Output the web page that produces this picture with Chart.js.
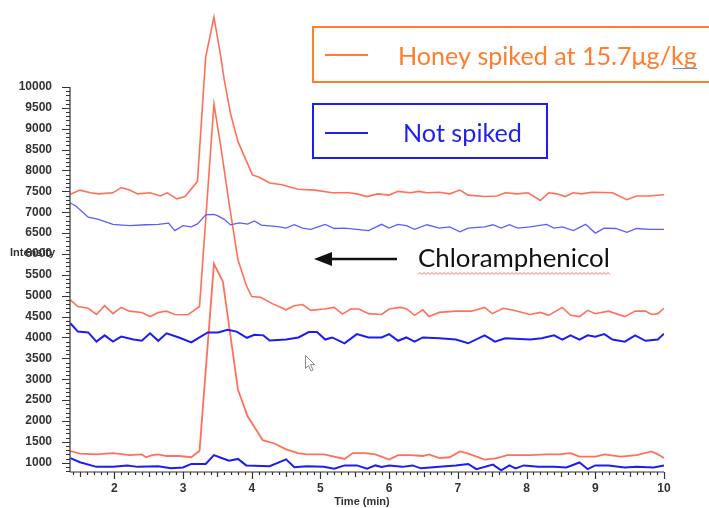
<!DOCTYPE html>
<html>
<head>
<meta charset="utf-8">
<title>Chloramphenicol chromatogram</title>
<script src="https://cdn.jsdelivr.net/npm/chart.js@4.4.1/dist/chart.umd.min.js"></script>
<style>
    html, body { margin: 0; padding: 0; background: #fff; }
    #chrom { display: block; }
</style>
</head>
<body>
<canvas id="chrom" width="709" height="508"></canvas>
<script>
"use strict";

// axis ticks
var xTickLabels = [2, 3, 4, 5, 6, 7, 8, 9, 10];
var yTickLabels = [1000, 1500, 2000, 2500, 3000, 3500, 4000, 4500, 5000, 5500,
    6000, 6500, 7000, 7500, 8000, 8500, 9000, 9500, 10000];

// Honey spiked at 15.7 ug/kg - upper trace
var redTopT = [1.36, 1.5, 1.65, 1.77, 1.98, 2.1, 2.22, 2.34, 2.52, 2.67, 2.77, 2.91, 3.03, 3.21, 3.33, 3.45,
    3.55, 3.6, 3.69, 3.8, 4.01, 4.11, 4.26, 4.44, 4.67, 4.92, 5.17, 5.41, 5.53, 5.68, 5.83, 6.0, 6.13,
    6.31, 6.43, 6.55, 6.73, 6.88, 7.03, 7.15, 7.39, 7.57, 7.69, 7.87, 8.02, 8.2, 8.32, 8.44, 8.56, 8.68,
    8.8, 8.95, 9.25, 9.46, 9.6, 9.78, 10.0];
var redTopV = [7430, 7530, 7465, 7440, 7465, 7590, 7530, 7440, 7465, 7390, 7465, 7320, 7375, 7740, 10720, 11675,
    10720, 10170, 9370, 8690, 7894, 7838, 7700, 7660, 7551, 7530, 7465, 7465, 7440, 7375, 7440, 7410, 7500,
    7465, 7500, 7465, 7480, 7440, 7530, 7410, 7375, 7390, 7465, 7440, 7465, 7280, 7465, 7440, 7375, 7465,
    7440, 7480, 7465, 7300, 7390, 7390, 7420];

// Honey spiked - middle trace
var redMidT = [1.36, 1.47, 1.62, 1.74, 1.86, 1.98, 2.1, 2.22, 2.4, 2.52, 2.64, 2.76, 2.88, 3.07, 3.24, 3.45,
    3.55, 3.67, 3.8, 3.92, 4.0, 4.13, 4.3, 4.5, 4.62, 4.74, 4.86, 5.05, 5.2, 5.32, 5.44, 5.56, 5.7, 5.89,
    6.0, 6.16, 6.25, 6.37, 6.49, 6.58, 6.73, 6.97, 7.2, 7.39, 7.5, 7.66, 7.81, 8.05, 8.2, 8.32, 8.52, 8.64,
    8.77, 8.89, 9.0, 9.19, 9.43, 9.58, 9.73, 9.82, 9.91, 10.0];
var redMidV = [4900, 4740, 4700, 4550, 4760, 4570, 4720, 4630, 4600, 4500, 4600, 4630, 4550, 4543, 4743, 9593,
    8572, 7217, 5859, 5250, 4981, 4960, 4810, 4663, 4760, 4790, 4650, 4680, 4720, 4560, 4680, 4680, 4570, 4550,
    4680, 4720, 4690, 4530, 4660, 4500, 4600, 4630, 4630, 4720, 4570, 4700, 4650, 4550, 4600, 4530, 4720, 4530,
    4500, 4650, 4570, 4630, 4500, 4630, 4630, 4550, 4570, 4700];

// Honey spiked - lower trace
var redBotT = [1.36, 1.5, 1.74, 1.98, 2.22, 2.4, 2.46, 2.55, 2.64, 2.76, 2.94, 3.12, 3.24, 3.45, 3.58, 3.8,
    3.94, 4.16, 4.33, 4.5, 4.67, 4.8, 5.05, 5.35, 5.47, 5.65, 5.8, 6.0, 6.13, 6.31, 6.49, 6.58, 6.73, 6.88,
    7.03, 7.15, 7.39, 7.57, 7.72, 8.05, 8.29, 8.47, 8.64, 8.77, 9.0, 9.13, 9.37, 9.6, 9.82, 9.91, 10.0];
var redBotV = [1280, 1215, 1200, 1230, 1180, 1200, 1130, 1180, 1200, 1160, 1160, 1130, 1280, 5764, 5340, 2748,
    2110, 1540, 1460, 1320, 1230, 1200, 1200, 1090, 1230, 1230, 1200, 1075, 1180, 1180, 1160, 1200, 1110, 1130,
    1270, 1215, 1075, 1110, 1180, 1180, 1200, 1200, 1230, 1145, 1145, 1200, 1145, 1180, 1270, 1200, 1110];

// Not spiked - upper trace
var blueTopT = [1.36, 1.44, 1.62, 1.77, 1.98, 2.22, 2.46, 2.64, 2.79, 2.88, 3.0, 3.12, 3.21, 3.33, 3.45, 3.5,
    3.6, 3.69, 3.82, 3.94, 4.04, 4.14, 4.38, 4.5, 4.62, 4.74, 4.86, 5.07, 5.2, 5.35, 5.53, 5.7, 5.89, 6.0,
    6.13, 6.25, 6.37, 6.55, 6.73, 6.88, 7.03, 7.15, 7.39, 7.51, 7.63, 7.75, 7.87, 8.05, 8.29, 8.4, 8.52,
    8.68, 8.86, 9.0, 9.13, 9.3, 9.46, 9.6, 9.78, 10.0];
var blueTopV = [7220, 7150, 6880, 6830, 6710, 6680, 6700, 6710, 6740, 6560, 6680, 6650, 6720, 6936, 6950, 6920,
    6830, 6697, 6745, 6715, 6790, 6690, 6657, 6620, 6700, 6620, 6590, 6710, 6610, 6620, 6590, 6560, 6710, 6620,
    6710, 6680, 6590, 6700, 6620, 6650, 6530, 6620, 6650, 6700, 6620, 6700, 6620, 6650, 6710, 6620, 6650,
    6560, 6710, 6500, 6620, 6610, 6520, 6610, 6590, 6590];

// Not spiked - middle trace
var blueMidT = [1.36, 1.47, 1.62, 1.74, 1.86, 1.98, 2.1, 2.28, 2.4, 2.52, 2.64, 2.76, 2.94, 3.12, 3.24, 3.36,
    3.51, 3.65, 3.78, 3.93, 4.04, 4.17, 4.26, 4.5, 4.68, 4.83, 4.95, 5.07, 5.17, 5.35, 5.53, 5.7, 5.89, 6.0,
    6.13, 6.25, 6.37, 6.49, 6.73, 6.97, 7.15, 7.39, 7.54, 7.69, 8.05, 8.22, 8.4, 8.52, 8.64, 8.77, 8.89, 9.0,
    9.13, 9.25, 9.43, 9.58, 9.73, 9.91, 10.0];
var blueMidV = [4340, 4140, 4120, 3900, 4050, 3900, 4020, 3950, 3920, 4100, 3920, 4100, 4000, 3880, 4000, 4120,
    4120, 4184, 4140, 3992, 4064, 4050, 3928, 3950, 4000, 4130, 4130, 3950, 4000, 3860, 4080, 4000, 4000, 4080,
    3920, 4000, 3900, 4000, 3980, 3950, 3860, 4050, 3900, 3980, 3950, 3980, 4050, 3950, 4050, 3950, 4050, 4020,
    4080, 3950, 3900, 4050, 3920, 3950, 4090];

// Not spiked - lower trace
var blueBotT = [1.36, 1.5, 1.74, 1.98, 2.19, 2.34, 2.64, 2.82, 3.0, 3.12, 3.33, 3.45, 3.57, 3.67, 3.8, 3.92,
    4.26, 4.5, 4.62, 4.8, 5.05, 5.2, 5.35, 5.53, 5.68, 5.8, 5.89, 6.0, 6.19, 6.34, 6.46, 6.73, 6.97, 7.15,
    7.27, 7.51, 7.63, 7.75, 7.84, 7.96, 8.17, 8.4, 8.58, 8.77, 8.89, 9.0, 9.19, 9.43, 9.6, 9.85, 10.0];
var blueBotV = [1110, 1010, 900, 900, 935, 900, 915, 865, 885, 970, 970, 1180, 1105, 1045, 1090, 935,
    915, 1080, 889, 915, 900, 855, 935, 935, 855, 935, 900, 935, 900, 935, 865, 900, 935, 970,
    845, 955, 815, 935, 865, 935, 900, 900, 885, 1005, 845, 935, 935, 885, 900, 885, 935];

var RED = "rgba(255, 96, 72, 0.9)";
var BLUE = "rgb(28, 28, 245)";
var BLUE_LIGHT = "rgb(92, 92, 255)";
var ORANGE = "rgb(255, 125, 45)";
var LABEL_FONT = "bold 11px 'Liberation Sans'";

function pts(ts, vs) {
    return ts.map(function (t, i) { return { x: t, y: vs[i] }; });
}

function trace(ts, vs, color, width) {
    return {
        data: pts(ts, vs),
        borderColor: color,
        borderWidth: width,
        pointRadius: 0,
        tension: 0,
        fill: false
    };
}

// text fitted to a target width
function fitText(ctx, text, family, width, x, y, color) {
    ctx.font = "40px " + family;
    var size = 40 * width / ctx.measureText(text).width;
    ctx.font = size.toFixed(2) + "px " + family;
    ctx.fillStyle = color;
    ctx.textAlign = "left";
    ctx.textBaseline = "alphabetic";
    ctx.fillText(text, x, y);
}

// axes with minor ticks, labels and the slide annotations
var decor = {
    id: "decor",
    afterDraw: function (chart) {
        var ctx = chart.ctx;
        var xs = chart.scales.x;
        var ys = chart.scales.y;
        var area = chart.chartArea;
        var v, p, len;

        ctx.save();
        ctx.strokeStyle = "#333";
        ctx.lineWidth = 1.2;

        // y axis line and ticks
        ctx.beginPath();
        ctx.moveTo(area.left, ys.getPixelForValue(10000));
        ctx.lineTo(area.left, area.bottom);
        for (v = 800; v <= 10000; v += 100) {
            p = Math.round(ys.getPixelForValue(v)) + 0.5;
            len = v % 500 === 0 ? 8 : 4;
            ctx.moveTo(area.left - len, p);
            ctx.lineTo(area.left, p);
        }
        ctx.stroke();

        // x axis line and ticks
        ctx.beginPath();
        ctx.moveTo(area.left, area.bottom);
        ctx.lineTo(area.right, area.bottom);
        for (v = 14; v <= 100; v += 1) {
            p = Math.round(xs.getPixelForValue(v / 10)) + 0.5;
            len = v % 10 === 0 ? 7 : (v % 5 === 0 ? 5 : 3);
            ctx.moveTo(p, area.bottom);
            ctx.lineTo(p, area.bottom + len);
        }
        ctx.stroke();

        ctx.fillStyle = "#333";
        ctx.font = LABEL_FONT;
        ctx.textBaseline = "middle";
        ctx.textAlign = "left";
        ctx.fillText("Intensity", 10, 253);
        ctx.textAlign = "center";
        ctx.fillText("Time (min)", 362, 502);

        // legend boxes
        ctx.lineWidth = 2;
        ctx.strokeStyle = ORANGE;
        ctx.strokeRect(313, 27, 400, 55);
        ctx.beginPath();
        ctx.moveTo(325, 55);
        ctx.lineTo(368, 55);
        ctx.stroke();
        fitText(ctx, "Honey spiked at 15.7\u03bcg/kg", "Lato", 299, 398, 65, ORANGE);
        ctx.strokeStyle = "rgb(110, 140, 210)";
        ctx.lineWidth = 1;
        ctx.beginPath();
        ctx.moveTo(673, 68.5);
        ctx.lineTo(697, 68.5);
        ctx.stroke();

        ctx.lineWidth = 2;
        ctx.strokeStyle = "rgb(30, 30, 240)";
        ctx.strokeRect(313, 104, 234, 54);
        ctx.beginPath();
        ctx.moveTo(325, 133);
        ctx.lineTo(368, 133);
        ctx.stroke();
        fitText(ctx, "Not spiked", "Lato", 119, 403, 142, "rgb(30, 30, 240)");

        // arrow and compound name
        ctx.strokeStyle = "#111";
        ctx.fillStyle = "#111";
        ctx.lineWidth = 2.5;
        ctx.beginPath();
        ctx.moveTo(330, 259);
        ctx.lineTo(397, 259);
        ctx.stroke();
        ctx.beginPath();
        ctx.moveTo(314, 259);
        ctx.lineTo(332, 252);
        ctx.lineTo(332, 266);
        ctx.closePath();
        ctx.fill();
        fitText(ctx, "Chloramphenicol", "Lato", 192, 418, 267, "#111");

        // spell-check squiggle
        ctx.strokeStyle = "rgba(235, 80, 80, 0.8)";
        ctx.lineWidth = 1;
        ctx.beginPath();
        for (v = 418; v <= 611; v += 2) {
            ctx.lineTo(v, 273.5 + ((v / 2) % 2 === 0 ? -1 : 1));
        }
        ctx.stroke();

        // mouse pointer
        ctx.fillStyle = "#fff";
        ctx.strokeStyle = "#888";
        ctx.lineWidth = 1;
        ctx.beginPath();
        ctx.moveTo(305.5, 355.5);
        ctx.lineTo(305.5, 368.5);
        ctx.lineTo(308.5, 365.5);
        ctx.lineTo(311, 371);
        ctx.lineTo(313, 370);
        ctx.lineTo(310.5, 364.5);
        ctx.lineTo(314.5, 364.5);
        ctx.closePath();
        ctx.fill();
        ctx.stroke();
        ctx.restore();
    }
};

function noPad(s) {
    s.paddingTop = 0;
    s.paddingBottom = 0;
    s.paddingLeft = 0;
    s.paddingRight = 0;
}

var chart = new Chart(document.getElementById("chrom").getContext("2d"), {
    type: "line",
    data: {
        datasets: [
            trace(blueTopT, blueTopV, BLUE_LIGHT, 1.3),
            trace(blueMidT, blueMidV, BLUE, 2),
            trace(blueBotT, blueBotV, BLUE, 2),
            trace(redTopT, redTopV, RED, 1.6),
            trace(redMidT, redMidV, RED, 1.6),
            trace(redBotT, redBotV, RED, 1.8)
        ]
    },
    options: {
        responsive: false,
        animation: false,
        layout: { autoPadding: false, padding: { left: 0, right: 45, top: 0, bottom: 0 } },
        plugins: {
            legend: { display: false },
            tooltip: { enabled: false }
        },
        scales: {
            x: {
                type: "linear",
                min: 1.355,
                max: 10,
                grid: { display: false, drawTicks: false },
                border: { display: false },
                afterBuildTicks: function (s) {
                    s.ticks = xTickLabels.map(function (v) { return { value: v }; });
                },
                afterFit: function (s) { s.height = 36; noPad(s); },
                ticks: {
                    padding: 9,
                    color: "#333",
                    font: { family: "'Liberation Sans'", size: 12, weight: "bold" },
                    maxRotation: 0,
                    autoSkip: false,
                    callback: function (v) { return String(v); }
                }
            },
            y: {
                min: 777,
                max: 12084,
                grid: { display: false, drawTicks: false },
                border: { display: false },
                afterBuildTicks: function (s) {
                    s.ticks = yTickLabels.map(function (v) { return { value: v }; });
                },
                afterFit: function (s) { s.width = 70; noPad(s); },
                ticks: {
                    padding: 18,
                    color: "#333",
                    font: { family: "'Liberation Sans'", size: 12, weight: "bold" },
                    autoSkip: false,
                    callback: function (v) { return String(v); }
                }
            }
        }
    },
    plugins: [decor]
});
</script>
</body>
</html>
